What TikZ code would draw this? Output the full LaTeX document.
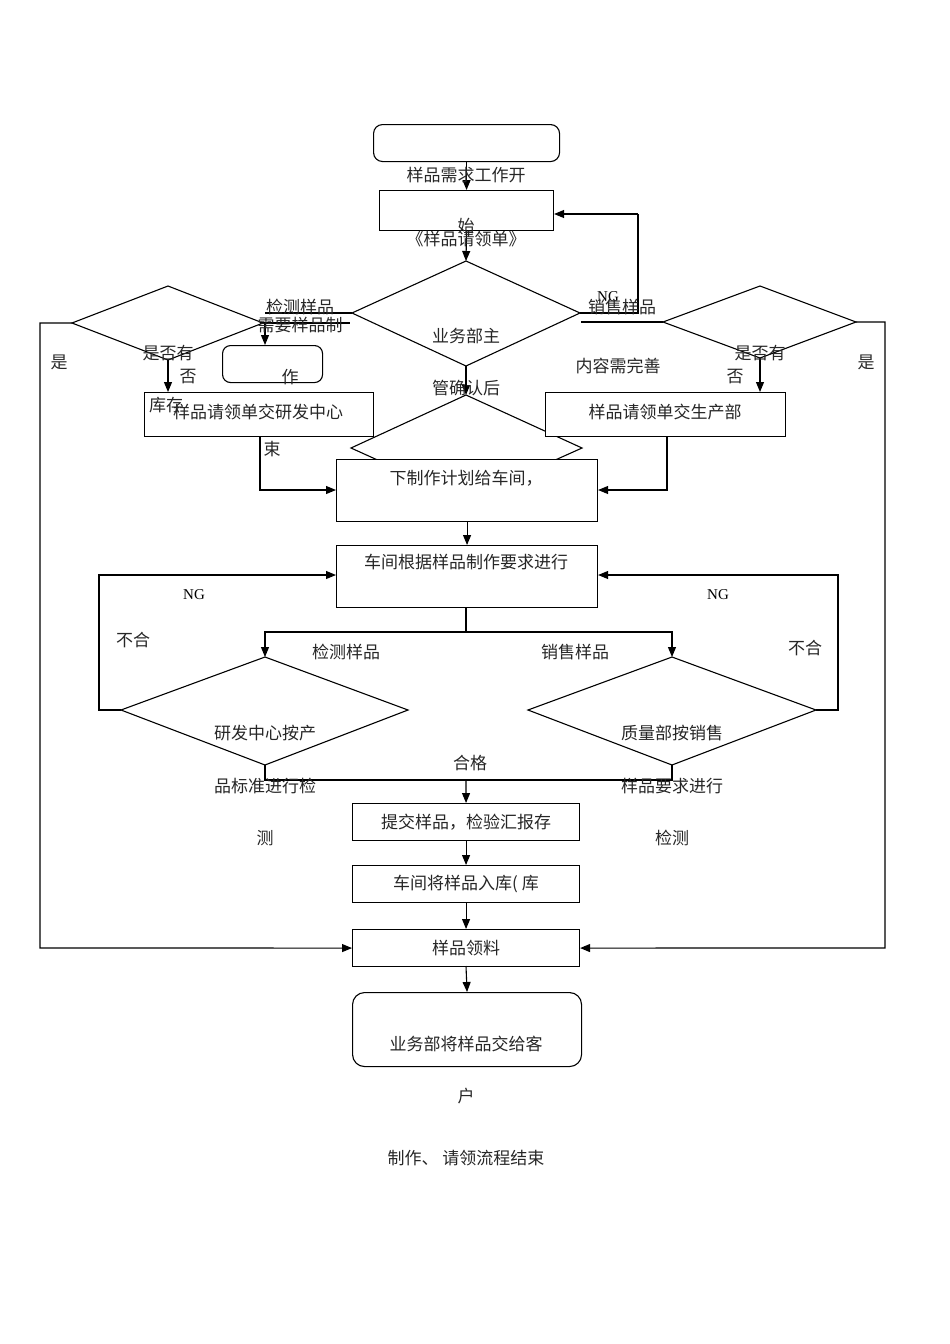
\documentclass[tikz,border=0pt]{standalone}
\usepackage{fontspec}
\setmainfont{Liberation Serif}
\newfontfamily\cjk{Noto Sans CJK SC}
\usetikzlibrary{arrows.meta}
\begin{document}
\begin{tikzpicture}[x=1pt,y=-1pt,
  line/.style={draw=black,line width=1.1pt},
  arr/.style={line,-{Triangle[length=10pt,width=8pt]}},
  box/.style={draw=black,line width=1.1pt,fill=white,inner sep=0pt,anchor=north west},
  t/.style={font=\cjk\fontsize{17}{19}\selectfont,inner sep=0pt,text=black!85},
  ng/.style={font=\fontsize{15}{17}\selectfont,inner sep=0pt}]
\useasboundingbox (0,0) rectangle (950,1344);
% main diamond
\coordinate (mdT) at (466,261); \coordinate (mdL) at (352,313);
\coordinate (mdR) at (580,313); \coordinate (mdB) at (466,366);
\draw[line] (mdT)--(mdR)--(mdB)--(mdL)--cycle;
% second diamond
\coordinate (sdT) at (466,395); \coordinate (sdL) at (351,448);
\coordinate (sdR) at (582,448); \coordinate (sdB) at (466,500);
\draw[line] (sdT)--(sdR)--(sdB)--(sdL)--cycle;
% left/right small diamonds
\coordinate (ldL) at (72,323); \coordinate (ldT) at (168,286);
\coordinate (ldR) at (263,323); \coordinate (ldB) at (168,360);
\draw[line] (ldL)--(ldT)--(ldR)--(ldB)--cycle;
\coordinate (rdL) at (663,322); \coordinate (rdT) at (760,286);
\coordinate (rdR) at (856,322); \coordinate (rdB) at (760,358);
\draw[line] (rdL)--(rdT)--(rdR)--(rdB)--cycle;
% lower diamonds
\coordinate (qlT) at (265,657); \coordinate (qlL) at (121,710);
\coordinate (qlR) at (408,710); \coordinate (qlB) at (265,765);
\draw[line] (qlT)--(qlR)--(qlB)--(qlL)--cycle;
\coordinate (qrT) at (672,657); \coordinate (qrL) at (528,710);
\coordinate (qrR) at (816,710); \coordinate (qrB) at (672,765);
\draw[line] (qrT)--(qrR)--(qrB)--(qrL)--cycle;
% boxes
\node[box,rounded corners=9pt,minimum width=186pt,minimum height=37pt] (start) at (373,124) {};
\node[box,minimum width=174pt,minimum height=40pt] (b1) at (379,190) {};
\node[box,rounded corners=8pt,minimum width=100pt,minimum height=37pt] (sm) at (222,345) {};
\node[box,minimum width=229pt,minimum height=44pt] (rd) at (144,392) {};
\node[box,minimum width=240pt,minimum height=44pt] (pd) at (545,392) {};
\node[box,minimum width=261pt,minimum height=62pt] (plan) at (336,459) {};
\node[box,minimum width=261pt,minimum height=62pt] (ws) at (336,545) {};
\node[box,minimum width=227pt,minimum height=37pt] (sub) at (352,803) {};
\node[box,minimum width=227pt,minimum height=37pt] (stock) at (352,865) {};
\node[box,minimum width=227pt,minimum height=37pt] (pick) at (352,929) {};
\node[box,rounded corners=12pt,minimum width=229pt,minimum height=74pt] (end) at (352,992) {};
% connectors
\draw[arr] (start.south)--(b1.north);
\draw[arr] (b1.south)--(mdT);
\draw[line] (mdR)--(638,313)--(638,214);
\draw[arr] (638,214)--(b1.east |- 0,214);
\draw[line] (581,322)--(rdL);
\draw[line] (265,313)--(mdL);
\draw[line] (260,323)--(350,323);
\draw[arr] (265,323)--(sm.north -| 265,0);
\draw[arr] (ldB)--(rd.north -| ldB);
\draw[arr] (rdB)--(pd.north -| rdB);
\draw[arr] (rd.south -| 260,0)--(260,490)--(plan.west |- 0,490);
\draw[arr] (pd.south -| 667,0)--(667,490)--(plan.east |- 0,490);
\draw[arr] (ldL)--(40,323)--(40,948)--(pick.west);
\draw[arr] (rdR)--(885,322)--(885,948)--(pick.east);
\draw[arr] (mdB)--(sdT);
\draw[arr] (plan.south)--(ws.north);
\draw[line] (466,607)--(466,632);
\draw[arr] (466,632)--(265,632)--(qlT);
\draw[arr] (466,632)--(672,632)--(qrT);
\draw[arr] (qlL)--(99,710)--(99,575)--(ws.west |- 0,575);
\draw[arr] (qrR)--(838,710)--(838,575)--(ws.east |- 0,575);
\draw[line] (qlB)--(265,780)--(672,780)--(qrB);
\draw[arr] (466,780)--(sub.north);
\draw[arr] (sub.south)--(stock.north);
\draw[arr] (stock.south)--(pick.north);
\draw[arr] (466,966)--(end.north);
% texts
\node[t] (t1) at (466,175) {样品需求工作开};
\node[t] (t2) at (466,226) {始};
\node[t] (t3) at (466,239) {《样品请领单》};
\node[t] (t4) at (466,336) {业务部主};
\node[t] (t5) at (466,388) {管确认后};
\node[ng] (t6) at (608,297) {NG};
\node[t] (t7) at (622,307) {销售样品};
\node[t] (t8) at (618,366) {内容需完善};
\node[t] (t9) at (300,307) {检测样品};
\node[t] (t10) at (300,325) {需要样品制};
\node[t] (t11) at (290,377) {作};
\node[t] (t12) at (272,449) {束};
\node[t] (t13) at (168,353) {是否有};
\node[t] (t14) at (188,377) {否};
\node[t] (t15) at (166,405) {库存};
\node[t] (t16) at (258,412) {样品请领单交研发中心};
\node[t] (t17) at (59,362) {是};
\node[t] (t18) at (760,353) {是否有};
\node[t] (t19) at (735,377) {否};
\node[t] (t20) at (665,412) {样品请领单交生产部};
\node[t] (t21) at (866,362) {是};
\node[t] (t22) at (466,478) {下制作计划给车间，};
\node[t] (t23) at (466,562) {车间根据样品制作要求进行};
\node[ng] (t24) at (194,595) {NG};
\node[ng] (t25) at (718,595) {NG};
\node[t] (t26) at (133,640) {不合};
\node[t] (t27) at (805,648) {不合};
\node[t] (t28) at (346,652) {检测样品};
\node[t] (t29) at (575,652) {销售样品};
\node[t] (t30) at (265,733) {研发中心按产};
\node[t] (t31) at (265,786) {品标准进行检};
\node[t] (t32) at (265,838) {测};
\node[t] (t33) at (672,733) {质量部按销售};
\node[t] (t34) at (672,786) {样品要求进行};
\node[t] (t35) at (672,838) {检测};
\node[t] (t36) at (470,763) {合格};
\node[t] (t37) at (466,822) {提交样品，检验汇报存};
\node[t] (t38) at (466,884) {车间将样品入库( 库};
\node[t] (t39) at (466,948) {样品领料};
\node[t] (t40) at (466,1044) {业务部将样品交给客};
\node[t] (t41) at (466,1096) {户};
\node[t] (t42) at (466,1158) {制作、 请领流程结束};
\end{tikzpicture}
\end{document}
